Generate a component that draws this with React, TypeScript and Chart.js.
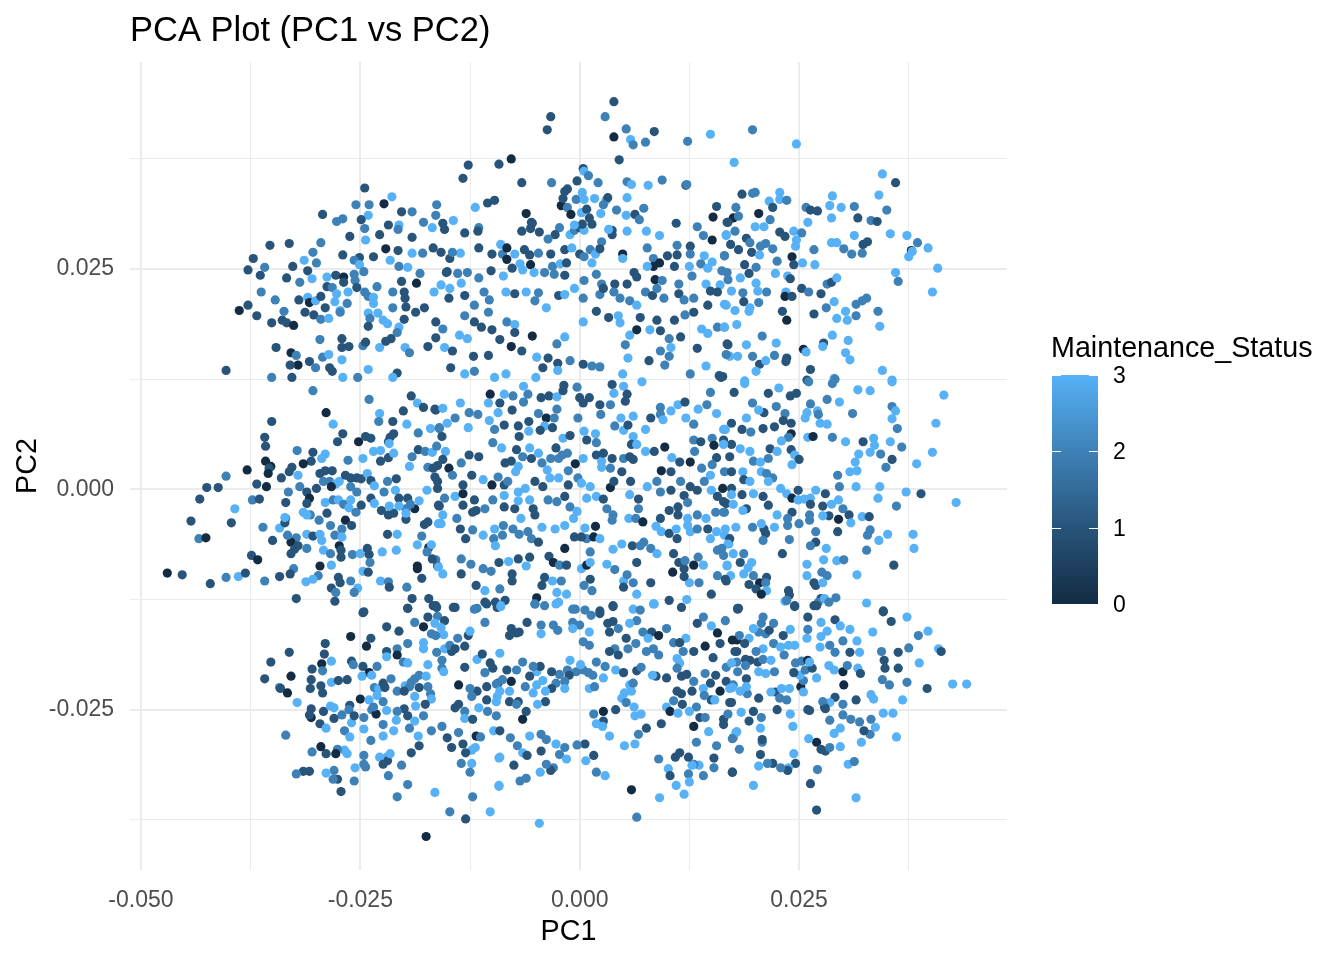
import React, { useEffect, useRef } from "react";
import { Chart, registerables, Plugin } from "chart.js";

Chart.register(...registerables);

// PCA scores, listed in units of 0.001: [PC1, PC2, Maintenance_Status]
const SCORE_UNIT = 1e-3;

const upperBand: [number, number, number][] = [
  [-24.5,34.2,1],[-22.3,32.4,0],[-21.4,33.2,3],[-25.5,32.3,2],[-24.0,32.3,2],[-29.3,31.2,1],[-24.1,31.1,3],[-24.9,30.6,1],[-27.7,30.4,2],[-27.0,30.7,2],
  [-20.3,31.5,1],[-19.1,31.5,2],[-21.8,30.0,1],[-24.5,29.6,2],[-20.6,30.0,3],[-20.7,29.5,2],[-17.8,30.3,2],[-26.2,28.7,1],[-22.8,28.9,1],[-19.1,28.6,1],
  [-24.4,28.3,3],[-35.3,27.7,1],[-33.1,27.9,1],[-29.5,28.0,2],[-22.1,27.3,0],[-20.7,27.1,1],[-19.1,26.8,3],[-17.9,26.8,2],[-30.4,26.9,2],[-27.0,26.6,1],
  [-25.1,26.3,1],[-23.5,26.4,1],[-37.2,26.2,1],[-37.8,24.9,1],[-35.9,25.2,2],[-32.7,25.3,1],[-31.4,26.0,3],[-30.0,25.7,2],[-25.7,26.0,2],[-25.1,25.5,3],
  [-21.6,26.0,3],[-20.6,25.3,2],[-19.6,25.2,3],[-18.2,24.5,2],[-36.4,24.3,1],[-33.4,24.0,1],[-31.9,23.5,2],[-31.0,24.8,1],[-30.5,23.9,3],[-28.8,24.1,3],
  [-27.8,24.3,1],[-26.9,24.1,0],[-25.7,24.4,2],[-25.6,23.7,2],[-24.6,24.7,2],[-26.9,23.5,1],[-28.8,23.0,1],[-28.2,22.9,2],[-25.4,22.9,1],[-23.1,23.0,2],
  [-20.3,23.6,1],[-18.6,23.4,0],[-36.3,22.4,2],[-34.7,21.5,2],[-32.0,21.5,1],[-31.0,21.8,3],[-30.8,21.2,0],[-30.1,21.4,3],[-29.5,21.9,1],[-29.0,20.6,1],
  [-27.7,22.2,3],[-27.9,21.3,3],[-26.4,22.4,3],[-26.5,21.1,2],[-24.5,22.4,2],[-24.1,21.9,2],[-23.5,21.1,3],[-23.5,21.8,3],[-21.3,22.4,2],[-20.0,22.4,1],
  [-19.9,21.7,1],[-19.8,20.7,1],[-21.3,20.6,2],[-18.7,20.1,1],[-17.7,20.6,1],[-38.8,20.3,0],[-37.8,20.9,1],[-36.8,19.7,1],[-35.1,18.9,1],[-33.9,19.2,1],
  [-33.7,20.2,2],[-33.4,18.9,1],[-32.6,18.6,0],[-31.3,20.1,1],[-30.3,19.8,1],[-29.5,19.3,2],[-28.6,19.4,3],[-27.3,20.3,3],[-27.3,20.1,2],[-24.1,20.0,3],
  [-23.9,19.4,2],[-24.1,18.5,1],[-23.0,20.0,3],[-22.4,19.2,3],[-21.9,18.8,3],[-20.6,18.4,3],[-20.0,19.3,1],[-20.8,17.8,2],[-29.6,17.0,2],[-27.1,17.1,1],
  [-27.1,16.1,1],[-26.3,16.2,1],[-24.7,16.3,2],[-24.4,16.7,1],[-22.8,16.1,3],[-22.1,16.8,1],[-21.5,17.1,1],[-19.9,16.1,3],[-19.4,15.5,2],[-17.3,16.2,1],
  [-34.6,16.1,1],[-32.9,15.5,0],[-32.3,15.2,2],[-30.8,14.5,1],[-29.3,15.0,2],[-28.6,15.3,3],[-27.1,14.7,3],[-28.5,13.8,1],[-28.2,13.4,1],[-30.1,13.8,2],
  [-32.1,14.1,0],[-33.0,14.1,1],[-40.3,13.5,1],[-24.1,13.6,3],[-20.8,13.2,1],[-35.1,12.7,2],[-32.8,12.7,1],[-27.0,12.7,3],[-25.3,12.7,2],[-21.3,12.7,3],
  [3.9,44.0,1],[-3.3,42.3,1],[-3.7,40.8,1],[2.9,42.3,2],[5.3,40.9,2],[3.9,40.0,0],[5.8,39.7,3],[6.1,39.1,2],[7.5,39.4,2],[8.5,40.6,1],
  [12.3,39.5,2],[14.9,40.3,3],[4.5,37.4,1],[-7.8,37.5,0],[-9.2,36.9,1],[-12.7,36.8,1],[-13.3,35.3,1],[-6.6,34.8,1],[-3.2,34.8,2],[0.4,36.4,1],
  [0.5,36.1,3],[1.0,35.6,2],[2.1,34.8,2],[5.4,34.9,2],[5.9,34.6,3],[7.8,34.5,3],[9.4,35.1,2],[12.1,34.5,1],[12.2,34.6,2],[-0.3,35.0,1],
  [-1.4,34.1,1],[-1.7,33.8,1],[-16.3,32.3,2],[-16.4,31.1,2],[-11.9,32.0,3],[-10.5,32.5,1],[-9.7,32.8,1],[-6.1,31.3,0],[-5.5,30.3,1],[-2.1,32.2,0],
  [-1.9,33.0,1],[-1.4,32.0,2],[-1.0,31.2,0],[-0.4,32.9,2],[0.3,33.7,3],[0.5,32.9,3],[0.2,31.4,3],[0.8,31.8,1],[1.7,33.0,3],[3.0,32.8,3],
  [3.2,33.1,1],[2.7,32.3,2],[2.4,31.3,3],[4.2,31.7,2],[5.4,33.1,3],[5.3,31.1,3],[6.3,31.2,1],[6.8,30.6,2],[7.3,31.9,2],[11.0,30.2,1],
  [13.4,29.8,2],[15.6,32.1,1],[15.2,30.9,0],[16.8,30.3,1],[-15.6,30.2,1],[-14.4,30.5,3],[-15.4,29.5,1],[-16.8,29.7,3],[-13.1,29.1,1],[-11.5,29.7,2],
  [-11.6,29.3,1],[-6.6,29.3,1],[-5.4,30.2,1],[-5.6,29.6,1],[-4.6,29.2,1],[-2.3,29.7,2],[-2.8,28.9,1],[-3.6,28.4,2],[-1.1,28.9,3],[-0.6,29.4,2],
  [0.0,29.7,1],[0.5,29.4,3],[1.1,30.8,1],[1.4,30.1,1],[0.3,30.1,1],[-0.6,30.0,3],[3.7,29.4,1],[3.7,28.9,1],[3.3,29.5,3],[5.4,29.3,3],
  [7.6,29.3,3],[9.1,28.8,3],[15.1,28.3,0],[14.1,28.8,2],[16.7,28.9,3],[-16.7,27.4,1],[-15.8,26.9,1],[-14.8,26.2,1],[-13.6,26.8,3],[-15.1,24.7,1],
  [-14.5,26.9,2],[-11.5,27.4,1],[-10.0,26.7,1],[-9.0,27.8,3],[-8.8,26.7,2],[-8.3,27.4,0],[-8.3,26.1,0],[-7.4,26.7,3],[-6.8,25.6,3],[-6.3,27.2,1],
  [-5.7,26.6,1],[-5.6,25.5,0],[-4.7,26.8,2],[-3.3,26.7,1],[-3.1,25.3,2],[-2.2,25.6,3],[-1.7,27.2,1],[-0.9,27.4,3],[0.0,26.7,1],[0.5,26.4,2],
  [1.2,27.2,2],[1.8,26.7,3],[2.5,28.1,2],[2.3,27.3,1],[1.4,25.7,3],[4.9,26.7,0],[4.9,26.2,3],[7.7,27.4,2],[8.4,26.2,2],[8.4,25.3,0],
  [9.1,25.7,0],[10.0,26.5,1],[11.1,26.6,1],[11.1,27.7,2],[12.6,27.6,1],[12.6,26.7,2],[14.2,26.5,3],[15.1,25.8,3],[16.5,26.5,2],[7.7,25.3,3],
  [10.8,25.3,1],[12.5,25.3,3],[13.8,25.6,2],[14.6,25.1,3],[16.2,24.8,2],[16.8,24.6,2],[-15.2,24.6,1],[-13.9,24.5,2],[-12.8,24.6,2],[-11.5,24.0,2],
  [-10.1,24.8,1],[-8.7,24.2,3],[-7.7,25.1,1],[-6.5,24.9,3],[-5.2,24.6,3],[-4.0,24.6,2],[-2.9,24.4,2],[-1.7,24.3,1],[-1.5,25.7,1],[0.5,23.7,2],
  [1.9,24.4,2],[2.5,23.3,2],[4.0,23.3,1],[5.4,23.3,1],[6.2,24.6,1],[6.5,24.1,1],[8.6,23.8,0],[9.4,23.7,2],[11.3,23.3,2],[12.8,24.2,2],
  [14.4,23.3,3],[14.9,22.5,1],[16.0,23.2,3],[-15.8,23.2,3],[-16.6,22.4,3],[-14.8,22.8,3],[-13.5,23.4,3],[-13.1,22.0,1],[-14.9,21.7,1],[-12.0,20.9,2],
  [-10.9,22.4,2],[-10.3,21.5,2],[-8.4,22.4,3],[-7.4,22.2,1],[-6.1,22.4,3],[-4.7,22.3,2],[-5.1,21.4,2],[-3.8,20.6,3],[-2.4,22.0,1],[-1.7,22.1,3],
  [-0.6,22.8,3],[0.4,21.7,2],[2.3,22.1,2],[2.7,22.8,1],[3.9,22.4,2],[4.6,21.7,2],[5.7,21.4,2],[6.5,20.9,3],[7.5,22.4,2],[8.3,22.0,1],
  [8.8,22.8,2],[9.6,21.7,2],[11.3,22.2,1],[11.9,21.5,2],[13.0,21.7,2],[14.6,20.9,1],[15.7,22.4,1],[16.7,20.9,3],[-16.4,19.0,1],[-15.6,18.2,2],
  [-16.4,17.2,1],[-15.4,16.1,3],[-14.5,15.7,1],[-13.7,17.5,3],[-12.8,17.1,3],[-13.1,19.7,2],[-12.0,19.0,1],[-11.2,18.4,1],[-10.4,20.1,2],[-10.0,18.1,1],
  [-9.1,17.0,1],[-8.3,19.0,2],[-7.4,18.7,3],[-7.4,17.8,1],[-7.8,16.2,0],[-6.6,15.7,1],[-5.4,17.4,0],[-4.9,15.0,3],[-4.2,13.8,1],[-3.6,14.9,1],
  [-2.5,14.3,1],[-2.5,13.5,3],[-2.6,16.5,2],[-1.7,17.3,3],[-1.1,14.6,2],[0.4,14.2,1],[1.4,14.0,2],[2.3,13.9,2],[1.9,20.2,1],[0.4,19.0,3],
  [3.3,19.5,1],[4.6,18.9,3],[4.4,19.7,3],[5.7,17.5,3],[5.2,16.4,2],[6.5,18.1,0],[6.9,19.5,1],[8.0,18.1,3],[8.8,19.2,1],[9.2,18.0,1],
  [10.2,17.1,2],[10.8,19.2,1],[11.5,17.3,1],[12.0,19.8,2],[13.0,20.1,1],[13.4,16.0,1],[13.9,18.2,3],[14.6,17.7,3],[15.7,18.4,2],[16.5,18.4,3],
  [16.8,16.5,1],[7.9,14.6,1],[9.2,15.7,2],[10.2,15.1,2],[10.4,16.1,3],[9.7,14.1,2],[12.6,13.1,2],[14.4,14.0,3],[15.9,12.9,1],[5.5,14.9,3],
  [4.9,13.1,3],[-14.7,13.8,1],[-13.1,13.1,3],[-12.0,13.4,2],[-9.7,12.7,3],[-8.4,13.1,3],[-5.0,12.7,3],[-10.4,15.2,1],[-12.1,15.1,1],
  [19.7,40.8,2],[24.7,39.2,3],[17.6,37.1,3],[34.5,35.8,3],[36.0,34.8,1],[18.5,33.5,1],[19.7,33.6,2],[20.0,33.7,2],[22.8,33.7,3],[21.6,32.7,3],
  [22.8,32.9,3],[23.6,32.8,2],[22.0,32.0,1],[17.8,32.0,2],[20.4,31.3,0],[21.7,30.6,2],[20.0,29.8,3],[21.0,29.8,3],[17.5,30.8,0],[16.9,30.3,1],
  [18.1,31.0,2],[25.8,32.0,2],[26.3,31.7,1],[27.1,31.6,1],[26.0,30.3,3],[28.8,33.3,3],[28.5,32.2,3],[29.8,32.0,3],[28.7,30.8,3],[31.3,32.1,2],
  [31.7,30.8,1],[34.1,33.4,3],[35.0,31.7,2],[33.2,30.5,2],[33.9,30.4,1],[17.7,29.3,2],[16.7,28.8,3],[17.2,27.8,1],[18.1,27.2,1],[19.0,28.5,1],
  [19.4,28.0,2],[19.6,26.9,1],[20.5,26.6,3],[20.6,27.6,2],[21.2,27.9,2],[22.0,27.3,2],[22.8,29.2,1],[23.4,28.7,1],[24.4,29.3,3],[25.3,29.1,2],
  [24.7,28.3,3],[24.6,27.6,3],[24.2,26.4,0],[24.4,25.5,1],[25.4,25.7,3],[26.7,27.2,2],[26.8,25.5,3],[28.7,28.0,3],[29.3,28.0,3],[30.1,27.3,2],
  [31.0,26.7,2],[32.2,26.8,2],[32.3,27.8,1],[32.8,28.1,1],[31.3,28.8,3],[35.4,29.0,3],[37.3,28.8,3],[38.5,28.0,2],[39.7,27.4,3],[37.8,27.1,0],
  [37.9,27.0,3],[37.5,26.4,3],[40.8,25.1,3],[36.0,24.6,3],[36.3,23.6,2],[40.2,22.4,3],[16.5,26.5,2],[18.8,25.5,1],[20.1,25.2,2],[19.3,24.5,1],
  [18.3,24.0,3],[16.9,23.8,2],[22.3,24.5,3],[22.5,25.9,2],[23.7,24.2,3],[24.0,23.9,1],[21.3,22.4,2],[20.3,22.5,3],[20.1,23.4,3],[17.3,22.5,3],
  [18.6,22.3,2],[23.5,22.4,3],[23.4,21.9,0],[24.2,21.9,1],[25.3,22.8,1],[26.1,22.4,2],[27.5,22.2,1],[28.2,23.3,2],[28.7,23.5,1],[29.3,24.0,3],
  [29.0,21.3,3],[28.1,20.6,2],[26.7,19.9,1],[30.3,20.2,3],[29.3,19.4,3],[30.5,19.2,3],[31.5,21.0,2],[32.2,21.4,2],[32.7,21.7,2],[31.5,19.7,2],
  [34.0,20.2,2],[34.2,18.5,3],[18.7,21.3,1],[19.4,20.6,3],[19.3,20.2,3],[20.4,21.2,2],[17.7,20.3,3],[16.5,21.0,3],[17.9,18.7,3],[16.5,18.4,3],
  [23.1,20.2,1],[23.6,19.2,0],[20.8,17.4,2],[19.0,16.4,3],[16.9,16.4,1],[22.4,16.6,3],[25.5,15.9,0],[25.8,15.6,3],[27.8,16.6,1],[27.7,16.2,3],
  [28.8,17.5,3],[30.6,16.9,3],[30.3,15.5,3],[30.8,14.7,3],[19.7,15.1,2],[17.1,15.1,3],[18.0,15.1,3],[16.7,15.3,2],[20.5,14.2,1],[21.2,14.6,3],
  [22.2,15.2,2],[23.6,14.9,1],[23.5,14.5,1],[20.1,13.4,3],[26.3,13.6,1],[34.5,13.5,3],[35.6,12.4,3],[29.0,12.6,3],[25.9,12.4,1],[18.8,12.3,3],
  [16.3,12.8,1],
];

const middleBand: [number, number, number][] = [
  [-30.4,11.2,2],[-24.0,10.2,2],[-22.8,8.6,3],[-22.9,7.7,2],[-21.3,7.7,1],[-20.1,8.9,1],[-19.2,10.6,1],[-18.5,9.8,3],[-17.8,9.3,1],[-16.4,9.0,1],
  [-19.7,7.4,3],[-18.4,6.4,2],[-17.0,6.9,3],[-16.0,6.9,2],[-28.9,8.7,0],[-28.1,7.4,3],[-35.1,7.7,1],[-35.9,5.9,1],[-35.8,4.9,1],[-27.0,6.3,1],
  [-27.6,5.4,1],[-25.2,5.4,0],[-24.4,6.0,1],[-23.8,5.8,1],[-21.8,5.4,1],[-21.6,5.9,1],[-21.2,6.3,1],[-21.7,5.2,3],[-32.2,4.4,2],[-30.4,4.2,1],
  [-29.0,4.0,3],[-29.4,3.5,3],[-30.6,3.2,1],[-31.5,2.9,0],[-26.4,3.3,2],[-24.7,3.5,3],[-23.5,4.3,3],[-22.7,4.4,3],[-22.7,3.2,1],[-21.8,3.6,1],
  [-21.2,4.1,3],[-19.4,2.6,3],[-19.1,3.7,2],[-18.4,4.5,1],[-17.6,4.3,2],[-16.8,4.2,3],[-17.3,2.5,2],[-16.2,2.7,1],[-35.8,3.2,0],[-35.2,2.6,0],
  [-35.4,2.4,1],[-35.5,1.8,0],[-37.9,2.2,0],[-40.3,1.5,2],[-42.5,0.2,1],[-41.2,0.2,1],[-43.3,-1.1,1],[-44.3,-3.6,1],[-43.4,-5.6,2],[-42.6,-5.5,0],
  [-47.0,-9.5,0],[-45.3,-9.7,1],[-42.1,-10.7,1],[-40.3,-10.0,2],[-38.9,-9.9,3],[-38.1,-9.5,1],[-39.3,-2.2,3],[-39.7,-3.8,1],[-36.8,0.6,1],[-35.7,0.3,0],
  [-37.3,-1.2,2],[-36.5,-1.1,1],[-36.1,-4.3,2],[-34.2,-4.4,3],[-33.5,-3.3,2],[-33.6,-3.8,1],[-33.5,-1.5,1],[-33.2,-0.3,2],[-34.0,1.3,1],[-33.1,2.0,1],
  [-32.8,2.5,1],[-32.1,1.6,3],[-31.9,0.3,2],[-31.1,-0.3,1],[-30.8,-1.0,0],[-31.1,-1.6,1],[-31.5,-2.6,3],[-30.7,-2.9,2],[-30.0,0.1,1],[-29.6,1.8,1],
  [-29.0,2.1,1],[-28.2,2.1,1],[-29.2,0.9,2],[-28.5,0.9,2],[-27.8,0.6,3],[-28.3,0.3,0],[-27.4,0.9,3],[-26.7,1.6,1],[-26.1,1.3,1],[-26.1,0.3,2],
  [-25.4,1.3,1],[-24.9,1.2,1],[-24.2,1.8,3],[-23.8,1.0,1],[-23.4,0.4,3],[-21.9,0.9,2],[-20.9,1.2,1],[-21.0,-0.1,3],[-22.3,-0.3,2],[-20.6,-1.0,1],
  [-19.6,-1.0,1],[-18.3,-1.3,3],[-18.8,-2.2,0],[-19.8,-2.2,2],[-19.3,-1.7,2],[-17.4,-0.1,3],[-16.2,0.9,1],[-29.0,-1.5,3],[-28.1,-1.2,2],[-27.5,-1.2,3],
  [-26.9,-1.7,2],[-26.1,-1.2,3],[-25.4,-0.3,2],[-26.3,-2.1,3],[-25.5,-2.6,2],[-24.9,-1.8,1],[-23.8,-1.0,1],[-23.4,-1.6,3],[-22.6,-2.4,1],[-21.8,-2.9,1],
  [-21.2,-2.7,1],[-21.7,-1.9,3],[-20.6,-1.9,3],[-19.8,-3.4,1],[-19.8,-2.7,3],[-17.7,-4.0,1],[-17.3,-3.7,1],[-16.1,-3.9,3],[-16.0,-1.9,1],[-33.6,-3.2,3],
  [-31.1,-2.9,3],[-29.7,-3.5,2],[-28.8,-2.7,1],[-28.4,-4.1,2],[-26.7,-3.5,0],[-26.0,-4.1,1],[-27.1,-4.5,2],[-27.9,-5.2,2],[-27.1,-5.4,3],[-31.1,-5.1,3],
  [-30.4,-5.3,1],[-29.6,-5.1,3],[-29.4,-5.8,3],[-32.3,-5.5,2],[-32.9,-6.0,0],[-32.1,-6.4,1],[-32.5,-6.8,1],[-32.9,-7.3,1],[-33.3,-5.2,2],[-35.0,-5.8,1],
  [-31.1,-6.7,2],[-37.4,-7.5,1],[-36.7,-8.0,0],[-29.2,-6.9,3],[-28.4,-7.3,2],[-27.4,-6.4,0],[-27.2,-6.9,1],[-27.2,-7.7,1],[-25.9,-7.4,2],[-25.0,-7.3,3],
  [-24.2,-6.7,1],[-24.0,-7.4,1],[-22.5,-7.1,3],[-20.9,-6.9,3],[-21.9,-5.1,1],[-20.8,-5.1,3],[-18.5,-6.3,3],[-18.0,-5.3,2],[-17.2,-6.6,0],[-16.9,-6.3,3],
  [-17.4,-7.1,2],[-16.4,-8.0,2],[-16.2,-8.7,1],[-18.5,-8.7,0],[-18.5,-9.0,0],[-29.6,-8.7,0],[-28.3,-8.6,3],[-29.8,-9.8,2],[-30.4,-10.2,3],[-31.2,-10.5,3],
  [-32.6,-9.0,2],[-33.0,-9.6,1],[-34.2,-9.9,1],[-35.9,-10.4,2],[-27.5,-10.0,1],[-27.3,-10.6,1],[-28.3,-11.2,1],[-27.8,-11.7,2],[-27.9,-12.7,1],[-26.1,-10.4,2],
  [-25.3,-11.2,3],[-25.7,-11.7,2],[-24.7,-9.3,3],[-23.9,-8.3,2],[-24.1,-9.4,1],[-22.7,-10.4,3],[-21.8,-10.5,2],[-21.7,-11.1,1],[-19.7,-11.1,2],[-18.0,-10.1,1],
  [-19.6,-13.5,1],[-19.1,-12.4,1],[-17.2,-12.4,1],[-16.4,-13.2,1],[-32.3,-12.4,1],[-24.6,-13.9,1],[-16.1,-8.8,3],
  [-10.2,10.8,0],[-8.6,10.8,3],[-9.1,9.8,1],[-10.4,9.8,3],[-7.6,10.6,2],[-6.4,9.9,2],[-5.9,10.8,2],[-6.4,11.7,3],[-4.4,10.4,1],[-3.5,10.6,1],
  [-2.6,10.5,3],[-1.8,11.8,1],[-1.9,11.2,1],[-0.3,11.6,2],[0.0,10.4,1],[1.1,10.4,1],[0.4,9.8,1],[2.3,9.6,1],[3.7,11.9,1],[5.0,11.7,3],
  [5.4,10.8,1],[3.9,10.9,3],[5.2,10.0,1],[3.5,9.6,2],[7.1,12.2,3],[9.2,9.3,2],[11.2,9.6,3],[12.0,9.9,1],[13.5,9.1,3],[14.5,9.6,2],
  [15.6,8.6,3],[14.9,11.0,2],[16.1,12.7,1],[-16.5,9.1,1],[-15.6,9.2,3],[-13.6,9.8,3],[-14.2,8.1,2],[-15.1,7.5,3],[-16.0,7.0,2],[-15.7,6.0,1],
  [-12.6,8.7,2],[-11.6,8.5,2],[-12.7,7.0,3],[-10.3,7.8,3],[-9.7,6.8,2],[-8.6,7.3,1],[-9.3,8.7,3],[-7.7,9.0,1],[-7.0,7.2,1],[-6.9,6.0,1],
  [-5.8,6.6,3],[-5.8,7.7,1],[-4.7,8.6,2],[-3.8,8.1,0],[-4.0,7.2,3],[-2.9,8.1,2],[-3.1,7.0,1],[-4.5,6.7,1],[-2.6,9.1,2],[-1.9,5.8,3],
  [-1.1,6.1,1],[-0.2,8.1,2],[0.5,6.6,3],[0.8,5.6,1],[1.8,6.3,3],[1.9,5.3,2],[2.4,8.5,2],[4.0,7.2,2],[4.7,8.1,3],[5.0,6.7,3],
  [5.5,7.3,1],[6.1,8.3,3],[6.1,6.0,3],[5.9,5.1,1],[7.5,6.8,3],[8.1,8.1,1],[9.2,8.5,2],[9.5,7.9,3],[10.4,8.9,3],[12.1,8.1,3],
  [13.0,7.4,2],[13.0,5.6,2],[13.8,5.4,1],[15.1,5.8,2],[16.4,6.8,3],[16.4,5.6,1],[15.3,5.0,0],[15.6,3.6,1],[-16.3,4.9,2],[-15.3,4.3,3],
  [-14.9,2.4,0],[-15.6,3.4,1],[-16.7,2.4,1],[-13.5,3.0,2],[-12.6,3.9,1],[-11.5,3.7,1],[-12.3,1.6,1],[-14.5,1.6,2],[-16.5,1.4,1],[-9.9,5.3,2],
  [-8.9,4.7,3],[-8.5,3.0,1],[-7.8,3.2,1],[-7.2,4.5,1],[-7.0,2.6,3],[-6.5,3.7,2],[-5.7,4.7,3],[-5.5,3.5,1],[-4.7,4.1,3],[-4.3,3.0,2],
  [-3.7,2.2,3],[-3.3,3.5,2],[-2.7,4.7,1],[-2.4,3.5,2],[-2.0,3.9,2],[-1.4,4.1,2],[-0.5,2.9,0],[-1.3,2.1,2],[0.4,3.5,3],[1.9,3.9,1],
  [2.5,3.2,3],[2.5,2.5,3],[2.7,4.1,1],[3.7,3.5,1],[3.5,2.4,2],[5.0,3.5,2],[5.7,3.7,1],[6.1,3.4,1],[4.8,2.0,1],[5.8,0.9,1],
  [6.5,5.1,3],[7.5,4.3,3],[8.5,4.3,1],[9.7,4.8,0],[9.3,2.1,0],[10.4,2.0,1],[10.5,3.6,3],[11.4,3.1,1],[12.6,3.1,0],[13.1,4.3,2],
  [13.9,2.4,2],[15.1,2.8,2],[16.5,2.0,2],[14.9,1.6,3],[-16.2,0.1,1],[-13.3,0.5,1],[-10.0,0.5,0],[-11.0,1.1,3],[-9.3,1.4,2],[-8.6,0.5,1],
  [-8.2,0.9,2],[-7.3,2.0,3],[-7.0,-0.3,3],[-6.2,0.1,3],[-5.1,0.9,1],[-4.2,0.3,1],[-3.4,1.3,3],[-2.4,1.3,3],[-1.3,0.5,1],[-0.2,1.3,2],
  [0.2,0.7,3],[1.2,0.3,3],[3.5,0.2,0],[3.9,0.9,1],[7.7,0.3,3],[8.8,0.9,2],[9.2,-0.3,2],[10.4,-0.1,1],[11.5,0.9,2],[11.9,-0.7,1],
  [12.6,0.3,1],[13.4,-0.1,1],[14.2,0.9,2],[15.0,-0.1,3],[16.3,0.1,0],[15.7,-0.8,1],[-15.4,-1.0,2],[-14.2,-0.8,3],[-13.3,-0.5,0],[-13.3,-1.8,1],
  [-12.0,-1.2,1],[-11.8,-2.4,1],[-16.1,-1.8,1],[-15.6,-2.9,3],[-14.0,-3.3,2],[-15.8,-3.9,3],[-13.6,-4.5,1],[-12.2,-2.6,1],[-10.8,-2.2,2],[-9.9,-1.2,2],
  [-8.6,-0.7,3],[-8.6,-2.0,1],[-7.4,-2.2,1],[-7.0,-1.3,3],[-5.7,-1.2,3],[-5.3,-2.2,1],[-5.1,-2.9,1],[-3.6,-1.2,2],[-2.6,-1.4,2],[-1.7,-0.8,1],
  [-1.1,-2.0,2],[-0.3,-2.5,3],[0.8,-1.0,3],[1.9,-0.8,3],[2.7,-1.1,1],[3.1,-2.2,2],[3.8,-2.9,2],[5.7,-0.6,3],[6.7,-1.1,1],[6.7,-2.2,2],
  [5.6,-3.3,3],[6.4,-3.3,2],[7.2,-3.7,0],[9.2,-3.3,1],[10.2,-2.4,1],[11.2,-2.0,1],[12.3,-1.5,2],[11.2,-2.9,1],[12.3,-3.3,3],[13.4,-2.9,2],
  [14.4,-3.3,3],[15.5,-2.6,2],[16.5,-2.6,2],[16.7,-1.6,1],[-13.0,-5.6,1],[-12.2,-4.6,2],[-11.0,-5.2,3],[-9.7,-4.5,3],[-9.8,-5.6,2],[-9.6,-6.4,3],
  [-8.7,-4.1,2],[-8.8,-5.2,2],[-7.6,-4.5,2],[-6.9,-5.1,2],[-6.7,-3.3,3],[-5.9,-4.8,2],[-5.5,-5.6,2],[-4.7,-6.0,1],[-4.3,-4.3,3],[-2.8,-4.5,3],
  [-1.7,-4.1,3],[-0.7,-3.3,3],[0.6,-4.4,3],[1.8,-4.2,0],[0.8,-5.6,2],[1.6,-5.4,0],[-0.6,-5.4,1],[0.2,-5.4,1],[-1.7,-6.7,0],[2.3,-5.6,3],
  [3.7,-3.5,2],[3.8,-6.8,3],[4.8,-6.2,3],[6.0,-6.4,1],[7.3,-6.0,2],[8.1,-6.7,2],[8.7,-4.2,3],[9.3,-4.8,3],[10.2,-5.0,1],[11.0,-4.5,3],
  [11.1,-5.6,1],[12.3,-4.1,3],[12.6,-4.8,3],[13.4,-4.5,2],[14.6,-4.5,1],[15.6,-4.8,3],[14.9,-5.6,3],[16.5,-5.2,3],[17.0,-6.2,3],[15.7,-6.9,2],
  [-16.8,-7.9,1],[-15.6,-9.6,3],[-13.5,-7.9,2],[-12.4,-8.5,2],[-13.5,-9.6,1],[-11.0,-9.0,2],[-10.1,-9.3,2],[-9.2,-8.3,1],[-8.1,-8.2,3],[-7.0,-7.9,1],
  [-5.7,-7.7,1],[-6.1,-8.7,3],[-7.7,-9.6,1],[-7.7,-10.4,1],[-9.1,-11.3,2],[-11.8,-10.9,1],[-10.8,-11.5,3],[-8.5,-12.6,1],[-3.5,-7.6,1],[-3.0,-8.3,0],
  [-2.3,-8.6,2],[-1.5,-8.6,1],[-4.0,-10.0,1],[-3.1,-10.4,3],[-2.1,-10.4,2],[-4.3,-10.9,1],[-2.6,-11.7,3],[-1.5,-11.9,3],[0.2,-9.0,3],[0.8,-8.6,0],
  [1.2,-8.3,3],[1.2,-10.2,1],[0.5,-10.9,2],[1.4,-11.5,2],[1.2,-7.1,2],[3.1,-8.5,3],[4.0,-9.1,2],[5.0,-10.4,3],[5.4,-9.7,2],[6.1,-10.6,2],
  [6.5,-8.3,1],[6.9,-6.4,2],[8.1,-10.6,1],[6.5,-11.9,3],[5.0,-11.1,1],[8.8,-7.3,3],[10.7,-7.3,1],[11.3,-8.3,1],[11.9,-9.0,1],[13.0,-8.6,0],
  [10.6,-9.4,0],[12.0,-8.1,2],[13.5,-7.7,2],[14.1,-8.6,3],[15.7,-9.8,2],[16.8,-8.7,3],[16.7,-10.4,1],[13.6,-10.6,2],[12.5,-10.6,3],[11.9,-9.9,1],
  [10.2,-12.6,1],[8.5,-13.0,3],[12.2,-12.5,3],[15.0,-11.9,1],[3.8,-13.2,1],[6.1,-13.6,3],[-14.4,-13.4,1],[-16.7,-13.2,1],[-12.0,-13.6,2],[-10.8,-12.8,1],
  [-9.6,-12.8,1],[-9.0,-13.2,3],[-5.1,-13.0,2],[-2.4,-12.8,3],[-4.0,-13.2,2],[-4.9,-12.3,0],[-0.5,-13.6,2],[2.3,-13.8,1],
  [26.1,12.2,2],[28.8,12.0,2],[29.1,12.5,2],[35.6,12.2,3],[18.8,12.0,3],[17.6,11.0,1],[21.5,10.9,1],[22.7,11.5,3],[24.0,10.6,1],[24.7,10.9,1],
  [26.3,9.7,2],[28.2,10.2,2],[29.6,9.9,3],[31.7,11.3,3],[33.1,11.2,3],[35.6,9.4,2],[36.0,8.9,3],[35.6,8.0,3],[36.2,6.9,2],[31.1,8.6,2],
  [41.5,10.7,3],[40.6,7.5,3],[40.2,4.2,3],[38.4,2.9,3],[19.7,9.8,2],[21.0,8.7,1],[20.4,9.0,3],[22.4,9.4,2],[23.4,8.6,2],[23.2,7.8,1],
  [24.1,7.5,1],[25.7,8.1,3],[25.9,8.7,3],[27.1,8.9,3],[27.2,8.5,2],[27.4,7.5,3],[28.2,7.4,3],[17.3,7.5,1],[19.0,8.1,3],[16.6,6.8,3],
  [18.5,6.8,1],[19.5,6.5,2],[20.9,6.9,1],[22.2,7.1,1],[24.1,6.3,0],[23.8,5.9,2],[23.0,5.5,3],[26.0,5.9,3],[26.6,6.0,0],[28.8,5.9,2],
  [30.3,5.4,3],[32.3,5.4,1],[33.5,5.8,3],[33.6,5.0,3],[35.4,5.4,3],[36.7,4.8,2],[34.3,4.0,2],[33.1,4.2,3],[31.8,4.0,3],[31.4,3.1,3],
  [35.6,3.4,1],[34.9,2.5,2],[30.8,2.0,3],[31.6,2.1,3],[29.4,1.6,2],[29.6,0.3,2],[31.5,0.3,3],[34.2,0.3,3],[34.0,-1.0,3],[37.2,-0.3,3],
  [38.9,-0.5,1],[36.1,-1.9,2],[42.9,-1.5,3],[38.0,-5.1,3],[38.1,-6.7,3],[35.8,-8.6,1],[32.7,-6.9,2],[31.6,-9.7,3],[32.7,-12.9,3],[34.6,-13.8,1],
  [17.3,5.1,1],[17.1,3.7,1],[16.4,5.1,3],[18.3,4.6,3],[19.4,4.3,3],[19.8,3.2,2],[20.6,3.1,3],[21.5,3.5,2],[21.7,4.6,1],[22.5,4.3,3],
  [24.1,4.5,1],[24.5,3.9,3],[25.0,3.4,1],[24.2,2.8,3],[17.3,2.0,1],[18.6,2.0,3],[20.7,2.0,3],[21.3,1.8,2],[22.0,1.3,2],[21.5,0.9,3],
  [18.7,1.1,1],[19.4,0.9,3],[17.3,0.1,1],[18.5,-0.6,1],[17.3,-0.6,3],[16.4,-1.4,1],[17.5,-1.7,3],[19.8,-0.5,3],[20.9,-0.8,1],[21.5,-1.8,1],
  [22.9,0.1,3],[23.6,-0.5,3],[24.2,-1.0,0],[24.9,-0.1,1],[24.9,-1.2,3],[25.6,-1.1,3],[26.3,-1.0,3],[26.9,-0.1,3],[26.3,-1.7,1],[27.7,-1.9,1],
  [28.0,-0.5,1],[28.7,-1.7,3],[29.5,-1.2,3],[30.0,-2.2,2],[30.7,-2.9,1],[29.5,-3.4,0],[28.4,-3.0,1],[27.7,-3.0,3],[26.2,-2.9,2],[26.2,-3.5,2],
  [24.2,-2.6,1],[23.7,-3.3,2],[22.5,-2.9,3],[22.2,-4.3,3],[21.0,-4.5,1],[21.2,-5.0,1],[19.7,-4.3,2],[19.0,-2.2,1],[18.6,-2.4,3],[16.4,-2.6,2],
  [16.6,-4.5,3],[17.8,-4.3,3],[17.1,-5.6,1],[16.9,-6.2,3],[16.2,-6.7,2],[17.5,-7.3,3],[16.4,-7.5,2],[18.7,-7.3,2],[20.9,-5.8,2],[20.7,-3.9,3],
  [23.9,-5.7,2],[23.7,-4.1,2],[25.0,-3.9,2],[26.9,-4.8,2],[26.9,-6.0,1],[26.3,-6.4,2],[28.1,-6.7,3],[29.4,-4.8,1],[30.9,-3.8,3],[32.2,-3.1,3],
  [33.0,-3.1,1],[33.1,-4.6,2],[32.8,-5.2,2],[34.1,-5.8,3],[35.1,-5.1,3],[23.1,-7.3,1],[18.3,-8.3,1],[19.6,-8.3,3],[19.2,-8.9,3],[18.7,-9.6,3],
  [16.8,-8.6,3],[17.2,-9.8,3],[16.6,-10.2,1],[19.8,-9.8,2],[21.3,-10.0,1],[20.5,-10.6,0],[21.2,-10.6,2],[19.3,-10.8,1],[20.1,-11.3,1],[21.3,-11.5,3],
  [20.7,-11.9,0],[23.8,-11.5,1],[23.9,-12.0,1],[23.4,-12.7,3],[23.6,-12.6,2],[24.5,-13.2,1],[25.9,-8.5,3],[25.9,-9.8,3],[27.8,-8.0,3],[29.3,-8.1,3],
  [30.1,-8.0,2],[27.6,-9.4,2],[28.2,-9.8,2],[26.7,-10.6,1],[26.9,-10.9,1],[27.7,-10.6,3],[27.5,-12.4,1],[27.2,-12.8,2],[27.9,-12.4,3],[28.4,-12.8,2],
  [29.2,-12.3,2],[26.7,-13.2,1],[18.1,-13.5,1],
];

const lowerBand: [number, number, number][] = [
  [-24.7,-14.0,1],[-19.6,-13.5,1],[-16.3,-13.4,1],[-14.2,-13.4,1],[-11.7,-13.5,2],[-10.6,-13.0,1],[-9.4,-13.4,1],[-18.8,-15.1,2],[-17.3,-14.5,1],[-16.2,-14.4,2],
  [-15.4,-14.9,1],[-16.5,-15.2,3],[-15.8,-15.7,3],[-15.5,-16.5,3],[-17.8,-15.6,0],[-16.9,-16.4,2],[-16.4,-16.6,2],[-22.0,-15.6,1],[-20.6,-16.1,1],[-23.8,-16.9,1],
  [-26.1,-16.7,0],[-24.3,-17.8,0],[-29.0,-17.5,1],[-33.1,-18.5,1],[-35.2,-19.6,1],[-35.9,-21.5,1],[-29.1,-18.7,1],[-29.4,-19.8,0],[-28.3,-19.5,3],[-30.5,-20.4,1],
  [-29.3,-20.6,2],[-32.9,-21.2,0],[-30.6,-21.6,1],[-30.7,-22.6,1],[-29.5,-22.3,1],[-29.3,-23.1,1],[-28.3,-21.9,3],[-27.5,-21.7,1],[-26.5,-21.6,1],[-34.2,-22.5,2],
  [-34.1,-22.6,1],[-33.3,-23.1,0],[-32.2,-24.2,3],[-30.6,-24.9,1],[-30.6,-25.9,0],[-30.8,-25.6,1],[-29.2,-25.2,1],[-29.6,-26.6,1],[-28.9,-27.1,3],[-28.4,-24.6,3],
  [-28.0,-24.8,3],[-27.1,-25.6,2],[-28.0,-26.0,1],[-26.2,-24.5,1],[-26.3,-25.0,2],[-26.0,-26.5,3],[-25.7,-25.7,1],[-26.8,-27.4,2],[-26.2,-28.1,3],[-33.5,-27.9,2],
  [-26.0,-19.5,1],[-25.8,-19.9,2],[-24.7,-20.1,1],[-24.0,-20.8,0],[-23.7,-21.1,3],[-23.1,-20.1,2],[-22.0,-18.4,1],[-20.8,-18.1,2],[-22.0,-19.0,3],[-20.8,-18.8,0],
  [-20.1,-19.6,2],[-19.6,-17.5,2],[-19.6,-19.7,3],[-17.8,-17.4,3],[-17.8,-18.1,3],[-17.3,-19.9,3],[-16.3,-18.5,2],[-15.7,-19.4,2],[-15.4,-18.1,3],[-14.6,-18.4,1],
  [-14.8,-17.7,2],[-13.9,-16.9,2],[-12.7,-16.6,1],[-13.1,-17.8,1],[-14.2,-18.1,1],[-15.7,-20.3,2],[-15.5,-20.7,3],[-13.1,-20.2,1],[-12.5,-16.1,3],[-11.7,-19.3,3],
  [-11.1,-18.7,1],[-10.2,-19.7,1],[-10.8,-20.8,2],[-9.9,-20.3,1],[-9.1,-18.6,3],[-10.8,-15.1,2],[-24.8,-21.2,3],[-23.4,-22.5,2],[-22.9,-22.6,3],[-22.4,-22.0,1],
  [-22.2,-22.5,1],[-23.1,-23.4,3],[-22.4,-24.1,2],[-21.5,-21.5,2],[-20.8,-22.9,2],[-19.9,-22.3,3],[-19.4,-22.4,2],[-19.2,-21.9,2],[-18.8,-21.5,2],[-18.3,-21.1,2],
  [-17.5,-21.2,3],[-17.3,-22.4,2],[-17.0,-23.2,2],[-18.3,-22.5,1],[-20.0,-22.9,1],[-18.8,-23.5,3],[-16.9,-23.8,3],[-17.6,-24.4,1],[-18.7,-24.6,3],[-20.0,-24.9,1],
  [-19.6,-25.7,1],[-20.8,-25.2,2],[-22.0,-25.1,3],[-23.7,-25.0,2],[-24.6,-25.9,2],[-23.2,-25.5,0],[-25.0,-23.8,0],[-24.0,-23.9,3],[-23.5,-24.7,2],[-20.9,-26.2,3],
  [-22.4,-26.7,2],[-21.2,-27.4,3],[-22.4,-28.0,3],[-24.6,-27.2,3],[-23.8,-28.5,2],[-18.8,-26.3,3],[-19.4,-27.1,2],[-18.4,-28.0,3],[-17.8,-25.7,2],[-18.3,-29.1,1],
  [-19.2,-29.9,1],[-16.9,-27.4,2],[-15.7,-26.9,2],[-15.1,-28.2,1],[-14.6,-29.3,1],[-13.8,-27.6,2],[-13.3,-28.9,1],[-12.3,-29.6,3],[-13.8,-24.4,1],[-14.2,-24.8,1],
  [-13.1,-25.2,2],[-13.1,-26.0,3],[-12.2,-26.1,1],[-11.8,-28.0,0],[-11.3,-28.1,2],[-11.5,-24.8,3],[-10.5,-25.2,2],[-9.5,-25.7,2],[-10.6,-23.9,1],[-9.4,-23.5,3],
  [-9.3,-22.0,1],[-10.6,-22.4,1],[-11.7,-22.9,1],[-12.5,-22.6,2],[-12.3,-23.5,2],[-13.8,-22.2,0],[-11.9,-29.3,3],[-13.5,-31.1,2],[-12.3,-31.1,3],[-12.5,-32.1,2],
  [-13.0,-29.9,1],[-9.8,-27.4,3],[-9.1,-30.4,3],[-9.2,-33.7,3],[-10.2,-36.6,3],[-13.0,-37.4,1],[-14.8,-36.6,2],[-12.2,-34.9,2],[-16.5,-34.4,3],[-19.6,-33.5,2],
  [-20.8,-34.9,2],[-21.8,-32.5,2],[-20.3,-31.3,2],[-22.0,-30.4,3],[-21.9,-30.8,1],[-22.8,-30.4,3],[-21.6,-30.0,3],[-22.4,-31.2,1],[-24.6,-30.2,2],[-24.6,-31.2,2],
  [-24.4,-31.5,2],[-25.6,-31.6,3],[-25.7,-33.1,2],[-26.5,-30.0,3],[-26.8,-29.6,3],[-27.6,-29.5,2],[-27.8,-30.0,0],[-28.9,-30.0,1],[-29.5,-29.2,0],[-30.5,-29.8,2],
  [-28.0,-31.9,2],[-27.6,-32.9,1],[-28.1,-32.9,2],[-28.9,-32.2,3],[-27.2,-34.3,1],[-30.8,-32.0,1],[-31.5,-32.0,1],[-32.3,-32.3,2],[-17.5,-39.4,0],
  [-9.0,-13.3,3],[-5.1,-13.0,2],[-2.7,-13.0,3],[-0.8,-13.6,2],[0.6,-13.7,2],[1.3,-14.3,2],[2.3,-14.1,1],[3.8,-13.3,1],[3.8,-15.0,1],[6.9,-13.7,2],
  [6.5,-14.9,2],[8.4,-13.0,3],[11.6,-13.4,1],[14.1,-14.5,2],[16.6,-14.9,2],[18.0,-13.6,1],[-6.0,-15.1,1],[-4.4,-15.4,2],[-3.0,-15.4,2],[-2.5,-16.0,2],
  [-4.4,-16.4,3],[-7.8,-15.8,1],[-7.2,-16.3,1],[-8.0,-16.6,1],[-6.9,-16.2,1],[-0.8,-15.1,2],[0.0,-15.4,2],[1.1,-16.2,3],[0.4,-17.3,2],[1.1,-17.7,2],
  [-0.8,-15.8,3],[3.2,-15.2,1],[3.4,-16.2,1],[4.4,-15.8,2],[5.3,-16.9,1],[5.7,-15.2,3],[6.4,-17.5,2],[7.2,-16.2,2],[8.2,-16.2,1],[9.0,-16.6,0],
  [7.8,-16.9,3],[8.4,-18.1,2],[9.9,-15.8,2],[12.1,-16.9,3],[10.7,-17.4,2],[11.4,-17.4,1],[11.8,-18.4,2],[13.0,-18.4,1],[13.4,-15.2,1],[15.0,-15.5,3],
  [15.7,-16.3,0],[14.3,-17.8,0],[15.2,-19.1,1],[16.0,-17.5,1],[17.9,-17.1,0],[17.7,-18.4,1],[16.7,-20.2,2],[17.9,-19.6,2],[5.5,-18.1,2],[4.0,-18.1,2],
  [3.4,-18.4,1],[4.4,-18.8,1],[2.9,-20.1,2],[4.1,-20.5,3],[5.0,-20.8,1],[6.5,-20.6,1],[7.0,-20.2,2],[9.0,-18.8,2],[7.6,-18.4,2],[8.7,-21.2,1],
  [8.3,-21.1,3],[9.9,-21.4,1],[11.1,-19.2,3],[11.4,-19.7,3],[11.1,-20.3,2],[12.2,-21.0,1],[11.6,-21.2,1],[13.0,-21.8,2],[14.3,-20.9,2],[14.9,-22.0,1],
  [15.5,-21.1,1],[16.7,-21.8,1],[17.5,-22.2,2],[17.1,-22.6,3],[16.0,-22.9,0],[15.0,-23.9,1],[14.1,-22.6,3],[14.2,-23.4,2],[15.4,-23.9,3],[17.1,-24.2,1],
  [13.3,-24.7,2],[12.8,-22.9,1],[11.6,-23.2,1],[11.1,-22.9,1],[10.7,-24.0,2],[11.7,-24.4,1],[9.9,-24.7,3],[10.3,-25.2,0],[11.2,-25.4,3],[12.5,-25.2,3],
  [13.7,-25.9,1],[14.3,-25.9,2],[13.0,-26.9,0],[13.3,-28.7,2],[14.7,-27.5,3],[15.6,-29.1,2],[15.3,-30.5,1],[15.3,-31.6,2],[16.4,-26.1,1],[16.4,-26.7,1],
  [16.9,-25.5,2],[17.5,-28.2,2],[17.9,-27.5,3],[17.4,-32.1,1],[14.1,-32.5,2],[13.6,-31.3,3],[13.0,-31.2,2],[12.4,-32.3,2],[12.8,-31.3,3],[11.4,-29.9,1],
  [10.9,-30.4,1],[12.4,-30.4,1],[9.3,-26.6,1],[9.0,-30.6,2],[10.1,-31.7,3],[10.3,-32.5,1],[11.0,-33.6,3],[11.9,-34.6,3],[12.5,-33.2,3],[9.1,-35.0,3],
  [6.5,-37.2,2],[5.9,-34.1,0],[5.1,-29.1,3],[6.3,-28.9,3],[6.7,-27.8,2],[7.6,-27.1,1],[6.3,-25.7,3],[7.0,-25.5,3],[6.2,-24.7,3],[5.9,-22.9,3],
  [5.1,-23.1,3],[4.8,-23.7,3],[5.3,-24.2,2],[5.7,-22.2,3],[6.1,-22.0,2],[4.1,-25.0,1],[2.7,-25.2,0],[2.7,-26.3,1],[3.4,-28.0,3],[2.6,-26.9,3],
  [1.9,-26.6,3],[1.6,-25.5,2],[0.6,-28.9,1],[1.6,-30.2,1],[0.7,-30.8,3],[2.9,-32.5,3],[1.9,-32.1,2],[1.1,-22.6,3],[1.7,-22.4,2],[1.5,-21.1,2],
  [1.0,-20.8,2],[0.4,-20.5,2],[-0.4,-20.7,2],[0.1,-19.9,3],[1.9,-19.6,2],[-1.1,-19.4,3],[-1.4,-20.5,2],[-1.2,-21.1,1],[-1.7,-21.8,2],[-2.3,-21.0,2],
  [-2.7,-22.0,2],[-1.7,-22.6,3],[-3.2,-22.6,1],[-3.2,-20.7,1],[-4.2,-21.7,3],[-3.9,-22.9,3],[-4.9,-22.2,3],[-4.9,-20.7,3],[-4.5,-20.1,1],[-5.3,-20.1,2],
  [-5.7,-21.2,1],[-6.2,-22.4,2],[-6.5,-19.6,2],[-7.2,-20.5,2],[-8.3,-20.5,1],[-7.8,-21.8,0],[-8.8,-21.6,2],[-9.5,-22.1,2],[-8.0,-22.9,3],[-9.1,-22.9,3],
  [-8.0,-24.1,1],[-9.5,-24.1,3],[-7.0,-24.1,1],[-5.3,-23.1,3],[-3.9,-24.1,1],[-4.8,-24.4,3],[-6.1,-25.2,1],[-6.5,-26.1,0],[-7.2,-24.4,2],[-9.1,-27.4,1],
  [-7.9,-28.2,2],[-7.1,-29.1,2],[-6.5,-29.9,3],[-6.0,-30.2,1],[-5.7,-28.0,3],[-4.4,-27.8,2],[-3.8,-28.4,2],[-4.4,-29.7,1],[-2.7,-28.9,3],[-1.7,-29.3,2],
  [-2.3,-30.1,2],[-1.5,-30.6,3],[-0.3,-29.0,2],[-3.0,-31.6,2],[-3.3,-31.9,1],[-3.8,-31.2,2],[-4.5,-32.1,3],[-6.1,-32.8,2],[-6.8,-33.1,2],[-7.5,-31.3,1],
  [-9.2,-30.5,3],[-9.2,-33.6,3],[-4.6,-37.9,3],[2.7,-21.4,3],
  [18.0,-13.5,1],[24.5,-13.3,1],[27.0,-13.2,1],[34.6,-13.9,1],[35.5,-15.0,1],[37.3,-14.5,3],[26.0,-14.5,1],[27.5,-15.1,3],[29.1,-14.8,1],[29.7,-15.5,3],
  [30.8,-15.9,3],[33.4,-16.2,3],[38.6,-16.6,2],[39.7,-16.1,3],[40.9,-18.1,3],[41.2,-18.4,1],[38.7,-19.7,3],[42.5,-22.1,3],[44.1,-22.1,3],[39.6,-22.6,1],
  [36.8,-23.9,3],[37.3,-21.9,2],[36.1,-28.1,3],[31.5,-35.0,3],[27.0,-36.4,1],[26.3,-33.4,1],[27.1,-31.8,2],[30.6,-31.2,3],[31.3,-30.9,2],[29.7,-29.2,3],
  [32.1,-28.7,3],[33.1,-27.8,2],[32.4,-27.4,1],[33.7,-27.0,3],[33.2,-26.1,2],[31.9,-26.4,2],[30.9,-26.1,2],[30.0,-25.6,2],[29.0,-27.7,3],[29.7,-27.1,3],
  [34.6,-25.4,3],[35.7,-25.4,3],[33.2,-23.3,3],[33.5,-23.8,3],[31.5,-23.9,1],[30.0,-24.4,2],[29.1,-23.6,1],[28.5,-24.2,3],[27.9,-24.7,1],[27.7,-24.1,2],
  [28.0,-24.9,1],[28.5,-26.2,2],[27.0,-28.7,0],[27.5,-29.5,1],[28.0,-29.7,1],[28.5,-29.3,2],[26.1,-28.3,3],[26.0,-25.0,1],[26.2,-25.1,1],[24.0,-25.5,3],
  [24.3,-26.9,3],[24.4,-30.0,3],[24.6,-31.1,1],[23.8,-31.6,3],[23.7,-31.9,1],[22.9,-31.6,2],[22.0,-31.1,1],[21.4,-31.1,2],[20.4,-31.4,3],[20.6,-30.1,1],
  [20.8,-28.7,2],[20.8,-28.4,1],[20.6,-27.1,3],[20.7,-25.9,2],[19.8,-25.2,1],[19.3,-26.3,1],[18.4,-25.3,3],[17.8,-27.6,3],[17.4,-28.3,2],[18.2,-29.5,2],
  [17.4,-32.1,1],[19.8,-33.6,3],[22.5,-25.0,1],[23.6,-23.9,2],[22.3,-23.0,1],[21.8,-23.0,3],[20.4,-23.7,1],[19.1,-23.2,2],[18.3,-22.9,3],[17.4,-22.5,3],
  [19.0,-21.5,1],[17.3,-24.2,1],[23.0,-22.6,3],[23.9,-22.6,3],[22.8,-23.7,2],[25.2,-22.4,0],[25.5,-23.0,3],[25.5,-21.7,2],[27.0,-21.4,3],[25.1,-21.1,3],
  [25.7,-20.5,2],[26.5,-20.3,1],[24.4,-20.8,1],[24.6,-19.7,2],[25.3,-19.5,2],[26.0,-19.4,0],[26.2,-19.6,3],[28.4,-20.0,3],[29.0,-20.5,3],[30.0,-20.7,0],
  [30.5,-20.0,2],[31.7,-20.3,3],[32.0,-20.9,1],[30.1,-22.2,0],[34.5,-21.6,2],[35.3,-22.2,2],[34.4,-18.4,2],[36.3,-18.5,1],[37.5,-18.0,2],[34.7,-19.4,1],
  [34.8,-20.3,1],[36.3,-20.3,1],[30.8,-18.5,1],[31.9,-18.5,3],[31.6,-17.2,3],[30.0,-17.2,2],[28.5,-17.7,2],[29.1,-18.5,2],[27.4,-17.9,3],[27.5,-16.7,3],
  [28.2,-16.1,3],[26.0,-15.9,2],[25.9,-16.9,3],[24.0,-15.9,3],[23.2,-16.6,1],[23.8,-17.7,3],[24.5,-17.7,3],[23.3,-18.8,2],[22.1,-17.5,2],[22.9,-17.9,3],
  [20.9,-14.5,2],[20.7,-15.2,2],[20.4,-16.2,2],[21.2,-16.4,2],[21.6,-16.0,1],[22.1,-15.2,2],[19.8,-15.8,3],[19.3,-16.9,3],[18.2,-16.6,2],[17.4,-17.1,0],
  [18.8,-17.5,1],[17.9,-18.4,1],[17.3,-19.7,3],[19.4,-19.4,1],[18.9,-19.3,1],[20.3,-19.6,1],[20.9,-19.3,2],[21.8,-19.4,3],[20.4,-20.7,3],[21.2,-20.9,3],
  [22.2,-20.7,2],[18.9,-20.0,2],[18.0,-20.7,2],[19.0,-22.4,3],[20.9,-18.1,3],[20.1,-18.4,2],
];

// axis extents, grid breaks and labelled breaks
const xRange = [-0.05125, 0.0487];
const yRange = [-0.0432, 0.0485];
const xGrid = [-0.05, -0.0375, -0.025, -0.0125, 0, 0.0125, 0.025, 0.0375];
const xLabelled = [-0.05, -0.025, 0, 0.025];
const yGrid = [-0.0375, -0.025, -0.0125, 0, 0.0125, 0.025, 0.0375];
const yLabelled = [-0.025, 0, 0.025];

// continuous scale 0..3, dark navy to light blue (ggplot default gradient)
const legendBreaks = [0, 1, 2, 3];
const statusColors = ["#132B43", "#28547A", "#3E81B7", "#56B1F7"];

const FONT = "'Liberation Sans', Arial, Helvetica, sans-serif";
const TITLE = "PCA Plot (PC1 vs PC2)";
const LEGEND_TITLE = "Maintenance_Status";

const isIn = (list: number[], v: number) => list.some((t) => Math.abs(t - v) < 1e-9);

const decorations: Plugin<"scatter"> = {
  id: "pcaDecorations",
  afterDraw(chart) {
    const { ctx, chartArea } = chart;
    ctx.save();

    // plot title, aligned with panel left
    ctx.fillStyle = "#000000";
    ctx.font = `34.5px ${FONT}`;
    ctx.textAlign = "left";
    ctx.textBaseline = "alphabetic";
    ctx.fillText(TITLE, chartArea.left, chartArea.top - 21);

    // colourbar legend
    const barLeft = chartArea.right + 45;
    const barW = 46;
    const barTop = 375;
    const barH = 229;
    const barBottom = barTop + barH;

    ctx.font = `28.7px ${FONT}`;
    ctx.fillText(LEGEND_TITLE, barLeft - 1, barTop - 18);

    const grad = ctx.createLinearGradient(0, barBottom, 0, barTop);
    statusColors.forEach((c, i) => grad.addColorStop(i / (statusColors.length - 1), c));
    ctx.fillStyle = grad;
    ctx.fillRect(barLeft, barTop, barW, barH);

    const maxBreak = legendBreaks[legendBreaks.length - 1];
    ctx.strokeStyle = "#FFFFFF";
    ctx.lineWidth = 1;
    ctx.font = `23px ${FONT}`;
    ctx.fillStyle = "#000000";
    ctx.textBaseline = "middle";
    legendBreaks.forEach((b) => {
      const y = Math.round(barBottom - (b / maxBreak) * barH) + 0.5;
      ctx.beginPath();
      ctx.moveTo(barLeft, y);
      ctx.lineTo(barLeft + 9, y);
      ctx.moveTo(barLeft + barW - 9, y);
      ctx.lineTo(barLeft + barW, y);
      ctx.stroke();
      ctx.fillText(String(b), barLeft + barW + 15, y + 1);
    });

    ctx.restore();
  },
};

export default function App() {
  const canvasRef = useRef<HTMLCanvasElement>(null);

  useEffect(() => {
    if (!canvasRef.current) return;
    const ctx = canvasRef.current.getContext("2d")!;

    const points = [...upperBand, ...middleBand, ...lowerBand];

    const tickFont = { family: FONT, size: 23 };
    const titleFont = { family: FONT, size: 28.7 };
    const gridWidth = (list: number[]) => (c: any) => (isIn(list, c.tick?.value ?? NaN) ? 2 : 1);

    const chart = new Chart(ctx, {
      type: "scatter",
      data: {
        datasets: [
          {
            data: points.map(([pc1, pc2]) => ({ x: pc1 * SCORE_UNIT, y: pc2 * SCORE_UNIT })),
            pointBackgroundColor: points.map((p) => statusColors[p[2]]),
            pointBorderWidth: 0,
            pointRadius: 4.6,
            pointHoverRadius: 4.6,
          },
        ],
      },
      options: {
        responsive: false,
        animation: false,
        events: [],
        layout: { padding: { top: 62, right: 337, bottom: 0, left: 0 } },
        plugins: {
          legend: { display: false },
          title: { display: false },
          tooltip: { enabled: false },
        },
        scales: {
          x: {
            type: "linear",
            min: xRange[0],
            max: xRange[1],
            afterBuildTicks: (scale) => {
              scale.ticks = xGrid.map((value) => ({ value }));
            },
            afterFit: (scale) => {
              scale.height = 90;
            },
            border: { display: false },
            grid: { color: "#EBEBEB", lineWidth: gridWidth(xLabelled), drawTicks: false },
            ticks: {
              autoSkip: false,
              maxRotation: 0,
              padding: 17,
              color: "#4D4D4D",
              font: tickFont,
              callback: (v) => (isIn(xLabelled, Number(v)) ? Number(v).toFixed(3) : ""),
            },
            title: {
              display: true,
              text: "PC1",
              color: "#000000",
              font: titleFont,
              padding: { top: 0, bottom: 11 },
            },
          },
          y: {
            type: "linear",
            min: yRange[0],
            max: yRange[1],
            afterBuildTicks: (scale) => {
              scale.ticks = yGrid.map((value) => ({ value }));
            },
            afterFit: (scale) => {
              scale.width = 130;
            },
            border: { display: false },
            grid: { color: "#EBEBEB", lineWidth: gridWidth(yLabelled), drawTicks: false },
            ticks: {
              autoSkip: false,
              padding: 16,
              color: "#4D4D4D",
              font: tickFont,
              callback: (v) => (isIn(yLabelled, Number(v)) ? Number(v).toFixed(3) : ""),
            },
            title: {
              display: true,
              text: "PC2",
              color: "#000000",
              font: titleFont,
              padding: { top: 11, bottom: 0 },
            },
          },
        },
      },
      plugins: [decorations],
    });

    return () => chart.destroy();
  }, []);

  return (
    <div style={{ position: "absolute", left: 0, top: 0, width: 1344, height: 960, background: "#ffffff" }}>
      <canvas ref={canvasRef} width={1344} height={960} style={{ display: "block" }} />
    </div>
  );
}
